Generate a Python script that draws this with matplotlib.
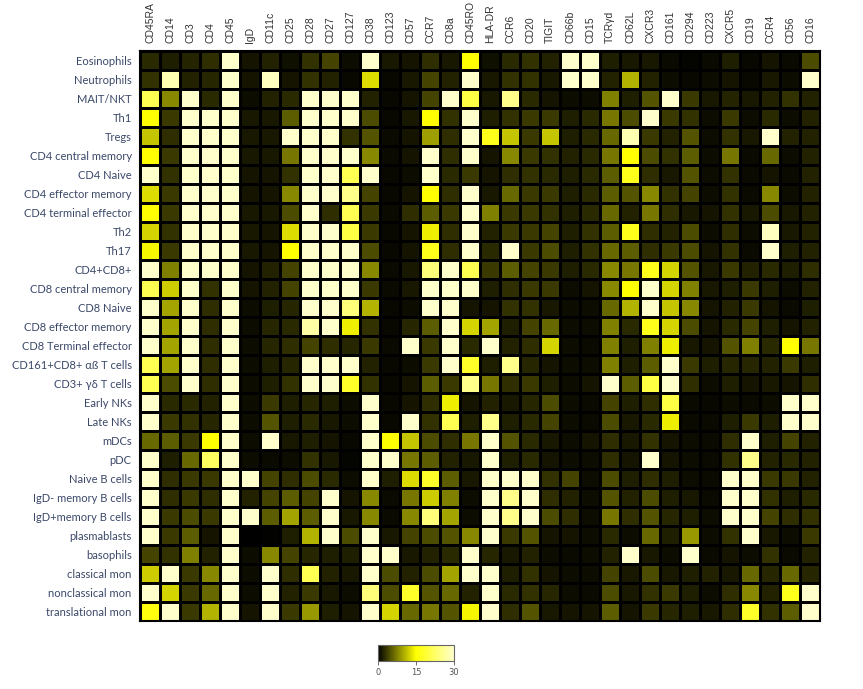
import numpy as np
import matplotlib
matplotlib.use("Agg")
import matplotlib.pyplot as plt
from matplotlib.colors import LinearSegmentedColormap

markers = ["CD45RA", "CD14", "CD3", "CD4", "CD45", "IgD", "CD11c", "CD25", "CD28", "CD27",
           "CD127", "CD38", "CD123", "CD57", "CCR7", "CD8a", "CD45RO", "HLA-DR", "CCR6", "CD20",
           "TIGIT", "CD66b", "CD15", "TCRγd", "CD62L", "CXCR3", "CD161", "CD294", "CD223", "CXCR5",
           "CD19", "CCR4", "CD56", "CD16"]

cell_types = ["Eosinophils", "Neutrophils", "MAIT/NKT", "Th1", "Tregs", "CD4 central memory",
              "CD4 Naive", "CD4 effector memory", "CD4 terminal effector", "Th2", "Th17",
              "CD4+CD8+", "CD8 central memory", "CD8 Naive", "CD8 effector memory",
              "CD8 Terminal effector", "CD161+CD8+ αß T cells", "CD3+ γδ T cells", "Early NKs",
              "Late NKs", "mDCs", "pDC", "Naive B cells", "IgD- memory B cells",
              "IgD+memory B cells", "plasmablasts", "basophils", "classical mon",
              "nonclassical mon", "translational mon"]

# una lista por fila (mismo orden que markers)
eosinophils = [2.5, 1.8, 2.2, 2.8, 30, 1.2, 2, 1, 3, 4, 0.8, 30, 1.5, 1.2, 2.8, 1.5, 15, 1, 2.5, 3, 2, 30, 30,
               1.8, 1.5, 1.5, 0.6, 0.3, 0.6, 1.8, 0.5, 1.2, 0.6, 4.5]
neutrophils = [3, 28, 2, 2.3, 30, 1.2, 29, 1.2, 3, 2, 0.5, 13, 0.5, 1.5, 4, 2, 30, 1.5, 3, 3, 1.5, 30, 30,
               2, 10.5, 2, 0.8, 0.5, 0.8, 1.2, 0.5, 1.5, 0.8, 30]
mait_nkt = [21, 8, 30, 2.5, 30, 0.8, 2, 2.5, 30, 30, 30, 2, 0.5, 1.2, 4, 30, 20, 1.5, 25, 2.5, 1.2, 0.8, 0.8,
            7.5, 1.8, 5, 30, 3.5, 1.5, 2.2, 1.5, 2, 3, 2]
th1 = [15, 3.5, 30, 30, 30, 1.5, 1.5, 5.5, 30, 30, 30, 4.5, 0.5, 1.5, 15, 3, 30, 1.8, 3, 3.5, 3.5, 1.8, 2.5,
       7, 4.5, 30, 3.5, 3, 0.8, 3.5, 0.8, 2.5, 0.8, 2]
tregs = [11.5, 2.8, 30, 30, 30, 1.5, 1.5, 30, 30, 30, 3, 5, 0.6, 1.2, 9.3, 2.8, 30, 17, 11.5, 3.5, 11.5, 1.8, 2.5,
         6.2, 28, 3.5, 2, 5, 0.8, 3, 1.5, 30, 2, 2]
cd4_cm = [15, 3.5, 30, 30, 30, 1.5, 1.5, 7, 30, 30, 30, 8, 0.6, 1.2, 30, 2.8, 30, 1.2, 8, 3.5, 3, 2, 2.5,
          7, 15, 4.5, 3, 5.5, 0.8, 7, 0.6, 6.2, 0.8, 2]
cd4_naive = [30, 3, 30, 30, 30, 1.2, 1.2, 3, 30, 30, 21, 30, 0.5, 0.8, 30, 2.5, 3.5, 1.2, 2.8, 3, 2.5, 1.8, 2.5,
             5.5, 17, 2.8, 1.5, 5, 0.8, 3, 0.6, 1.2, 0.6, 2]
cd4_em = [13, 3.5, 30, 30, 30, 1.2, 1.2, 8, 30, 30, 25, 4, 0.5, 1.2, 15, 2.8, 30, 1.5, 6.2, 3.5, 3.5, 1.8, 2.5,
          5.5, 5, 8, 3, 4, 0.8, 3, 0.6, 8, 0.8, 2]
cd4_te = [15, 3.5, 30, 30, 30, 1.5, 1.5, 4.5, 30, 2.8, 21, 3.5, 0.6, 2.8, 5.5, 3.5, 30, 7.5, 3.5, 3.5, 3, 1.8, 2.5,
          6.2, 2, 7, 2.8, 1.5, 1.2, 3, 1.5, 4.5, 1.5, 2]
th2 = [12.5, 3, 30, 30, 30, 1.5, 1.2, 13, 30, 30, 20, 3.5, 0.5, 1.2, 14, 2.8, 30, 2, 3.5, 3.5, 4, 1.8, 3,
       5.5, 17, 2.8, 2, 4.5, 0.8, 2.8, 0.8, 29, 1.5, 2]
th17 = [14.5, 3.5, 30, 30, 30, 1.5, 1.2, 15, 30, 30, 30, 4.5, 0.5, 1.2, 17, 2.8, 30, 2.5, 30, 3.5, 4.5, 1.8, 3,
        6.2, 5.5, 2.8, 3.5, 4.5, 1.2, 3, 0.6, 30, 1.8, 2]
cd4_cd8 = [30, 7.5, 30, 30, 30, 1.2, 2, 4, 30, 30, 30, 8, 0.6, 1.5, 24, 30, 21, 3.5, 5.5, 4, 3.5, 1.8, 2.5,
           8, 7, 17, 12.5, 5, 1.5, 3.5, 2, 2.5, 1.8, 2.8]
cd8_cm = [21, 12, 30, 3, 30, 1.2, 2, 4, 30, 30, 30, 3.5, 0.6, 1.5, 30, 30, 30, 1.8, 2.8, 3.5, 3.5, 0.8, 1.2,
          8, 15, 30, 12.5, 7.5, 1.5, 1.8, 3.5, 1.8, 0.8, 2]
cd8_naive = [30, 9.7, 30, 2.8, 30, 0.8, 1.8, 2.3, 30, 30, 24, 10.5, 0.5, 0.8, 30, 30, 1.2, 1.2, 3, 3, 1.5, 0.8, 0.8,
             6.2, 10.5, 30, 11.5, 8, 1.2, 2, 3.5, 1.2, 0.6, 1.8]
cd8_em = [30, 9.7, 30, 2.8, 30, 0.8, 2.3, 2.5, 27, 30, 14, 3, 0.5, 2.3, 5.5, 30, 12.5, 9.7, 1.8, 4, 6.2, 0.8, 0.8,
          7.5, 2.5, 17, 12.5, 4.5, 1.2, 2.5, 4, 1.8, 1.2, 2]
cd8_te = [30, 9.7, 30, 2.8, 30, 0.8, 2.3, 2.8, 4, 2.8, 2.3, 3.5, 0.6, 30, 3.5, 30, 2.5, 30, 2, 2.8, 12.5, 0.8, 0.6,
          7.5, 1.8, 7.5, 14, 1.5, 1.2, 5, 7.5, 2.5, 15, 7]
cd161_cd8 = [21, 9.7, 30, 2.8, 30, 0.8, 1.8, 2.3, 30, 30, 30, 2, 0.5, 0.8, 3.5, 30, 18, 1.8, 25, 2.3, 1.2, 0.8, 0.8,
             7.5, 1.8, 5.5, 30, 3.5, 1.8, 2.3, 2.3, 2, 3.5, 1.8]
gd_t = [21, 4.5, 30, 2.8, 30, 0.8, 1.8, 3, 30, 30, 18, 3, 0.5, 1.2, 5.5, 3.5, 25, 7, 2.8, 3.5, 1.8, 0.8, 1.2,
        30, 5.5, 20, 30, 2.8, 0.8, 1.8, 1.2, 1.5, 1.2, 2.8]
early_nk = [30, 2.5, 2.5, 2, 30, 0.8, 3.5, 1.8, 2.3, 1.8, 0.8, 30, 0.5, 1.2, 2.8, 14, 1.2, 2, 1.5, 2.3, 4.5, 0.8, 0.6,
            4, 1.8, 2.8, 20, 0.6, 0.5, 0.8, 0.6, 0.8, 30, 30]
late_nk = [30, 3.5, 3, 2.3, 30, 0.8, 5, 1.8, 2.5, 1.5, 0.8, 30, 0.5, 30, 3, 21, 1.8, 25, 1.8, 2.5, 4, 0.8, 0.6,
           4.5, 1.5, 2.5, 14, 0.6, 0.6, 1.8, 3.5, 1.8, 30, 30]
mdc = [6.2, 5.5, 3.5, 15, 30, 0.8, 30, 1.5, 1.8, 1.2, 0.5, 30, 15, 11.5, 4.5, 2.8, 7, 30, 5, 2.5, 1.5, 0.8, 1.2,
       2.8, 1.5, 3, 1.2, 0.8, 0.6, 2.8, 30, 1.8, 4, 2]
pdc = [30, 1.8, 6.2, 22, 30, 0.8, 0.6, 0.8, 3, 1.5, 0.3, 30, 30, 7, 5.5, 2, 1.5, 30, 1.8, 2.5, 1.2, 0.8, 0.8,
       2.8, 1.2, 30, 1.2, 0.8, 0.6, 3, 25, 2, 2.5, 2]
naive_b = [30, 2.8, 3.5, 3.5, 30, 30, 4, 2.8, 4.5, 2.5, 0.8, 30, 1.8, 13, 18, 5.5, 1.5, 30, 30, 30, 3, 4, 0.8,
           4.5, 1.8, 2.8, 1.8, 0.8, 0.6, 30, 30, 3.5, 3.5, 2]
igd_neg_mem_b = [30, 2.8, 3.5, 2.8, 30, 2, 4, 5.5, 4, 30, 1.2, 8, 0.6, 7, 12, 7.5, 0.8, 30, 25, 30, 2.8, 2, 0.8,
                 5, 2, 4.5, 1.8, 1.5, 0.6, 30, 30, 3, 1.8, 2.5]
igd_pos_mem_b = [30, 3.5, 4.5, 3.5, 30, 30, 5.5, 9.7, 5.5, 30, 1.5, 8, 0.6, 8, 24, 9.7, 0.8, 30, 25, 30, 4.5, 2.8, 0.8,
                 7, 2.8, 5, 2.3, 1.8, 0.8, 30, 30, 4, 2.8, 3]
plasmablasts = [30, 3.5, 5.5, 1.2, 30, 0, 0.2, 1.8, 10.5, 30, 4.5, 30, 1.5, 4, 4.5, 5, 8, 30, 3.5, 5, 1.2, 1.2, 0.8,
                2.5, 0.8, 6.2, 1.8, 9, 0.8, 3, 30, 1.5, 0.8, 3.5]
basophils = [4, 3, 7.5, 2, 30, 0.8, 8, 4, 2.3, 1.8, 1.8, 30, 30, 1.5, 2, 2.5, 30, 2.3, 1.5, 2, 0.8, 0.6, 0.8,
             2, 30, 1.5, 0.8, 30, 0.6, 1.2, 0.8, 3, 0.6, 2]
classical_mon = [12, 30, 3.5, 8, 30, 0.8, 30, 2.8, 21, 2, 1.5, 30, 4.5, 2, 4.5, 9.7, 30, 30, 1.8, 3, 1.2, 0.8, 0.8,
                 4, 1.5, 4.5, 1.5, 1.8, 2, 1.5, 6.2, 2.3, 6.2, 2.3]
nonclassical_mon = [30, 12.5, 3.5, 6.2, 30, 0.8, 30, 2, 3.5, 1.5, 0.8, 24, 4.5, 18, 5, 6.2, 2, 30, 2.5, 3, 2.3, 0.8, 0.6,
                    4.5, 1.5, 3, 3.5, 1.8, 0.8, 2.8, 8, 2, 17, 30]
translational_mon = [16, 30, 3.5, 10.5, 30, 1.2, 30, 3.5, 9, 1.8, 1.2, 30, 12.5, 6.2, 7, 5, 14.5, 30, 2.8, 5, 1.5, 1.2, 1.2,
                     5.5, 1.2, 3.5, 2.3, 1.8, 1.5, 2.8, 18, 3, 5.5, 30]

filas = [eosinophils, neutrophils, mait_nkt, th1, tregs, cd4_cm, cd4_naive, cd4_em, cd4_te, th2, th17,
         cd4_cd8, cd8_cm, cd8_naive, cd8_em, cd8_te, cd161_cd8, gd_t, early_nk, late_nk, mdc, pdc,
         naive_b, igd_neg_mem_b, igd_pos_mem_b, plasmablasts, basophils, classical_mon,
         nonclassical_mon, translational_mon]
valores = np.array(filas)

cmap = LinearSegmentedColormap.from_list("negro_amarillo", ["#000000", "#ffff00", "#ffffcc"])

fig = plt.figure(figsize=(8.63, 6.89), dpi=100)
ax = fig.add_axes([140 / 863, 1 - 621 / 689, 680 / 863, 570 / 689])
malla = ax.pcolormesh(valores, cmap=cmap, vmin=0, vmax=30, edgecolors="black", linewidth=0.8)
ax.set_xlim(0, len(markers))
ax.set_ylim(len(cell_types), 0)

ax.xaxis.tick_top()
ax.set_xticks(np.arange(len(markers)) + 0.5)
ax.set_xticklabels(markers, rotation=90, fontsize=7.5, family=["Liberation Sans", "DejaVu Sans"], color="#333333")
ax.set_yticks(np.arange(len(cell_types)) + 0.5)
ax.set_yticklabels(cell_types, fontsize=8, family=["Lato", "DejaVu Sans"], color="#3b4868")
ax.tick_params(length=0, pad=6)
for s in ax.spines.values():
    s.set_linewidth(1.5)
    s.set_color("black")

cax = fig.add_axes([378 / 863, 1 - 661 / 689, 76 / 863, 16 / 689])
cb = fig.colorbar(malla, cax=cax, orientation="horizontal", ticks=[0, 15, 30])
cb.outline.set_linewidth(0.8)
cb.outline.set_edgecolor("#666666")
cax.tick_params(labelsize=6, length=3, width=0.6, colors="#555555", pad=2)

fig.savefig("out.png", dpi=100)
